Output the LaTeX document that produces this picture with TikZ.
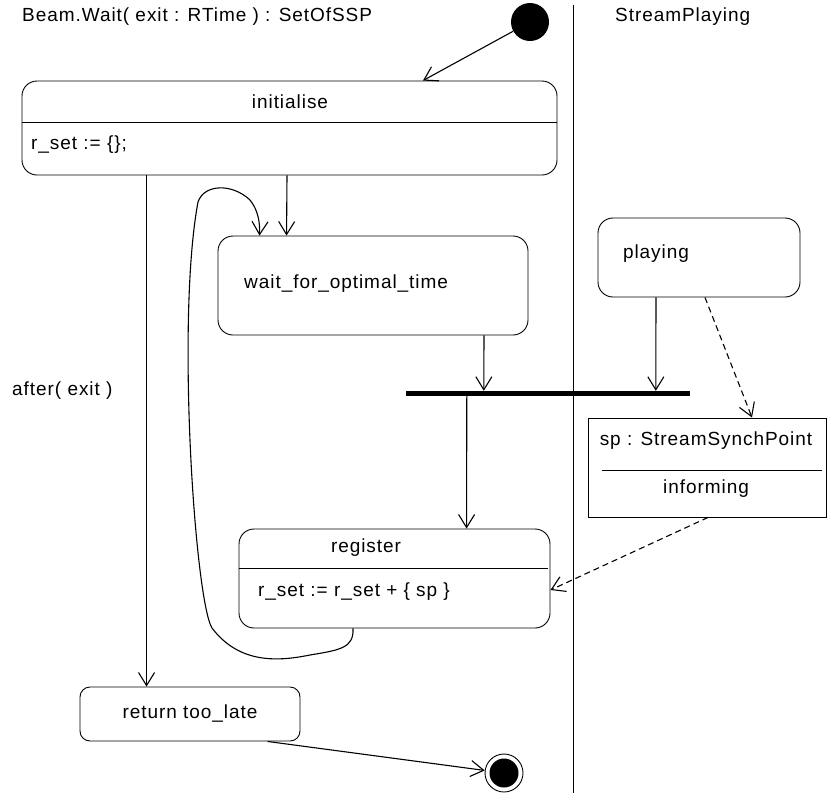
\documentclass[tikz,border=0pt]{standalone}
\usepackage{fontspec}
\setmainfont[LetterSpace=5]{Liberation Sans}
\usetikzlibrary{arrows.meta}
\begin{document}
\begin{tikzpicture}[x=1pt,y=-1pt,
  every node/.style={font=\fontsize{19}{22}\selectfont},
  statebox/.style={draw, rounded corners=15pt, line width=0.9pt, inner sep=0pt},
  objbox/.style={draw, line width=0.9pt, inner sep=0pt},
  lbl/.style={inner sep=0pt},
  arr/.style={line width=1.1pt, -{Straight Barb[length=13pt,width=16pt,line width=1.1pt]}},
  darr/.style={arr, dash pattern=on 6pt off 4pt},
  divider/.style={line width=0.9pt}]
\useasboundingbox (0,0) rectangle (828,793);

% swimlane separator and headings
\draw[line width=1pt] (573,5) -- (573,793);
\node[lbl, anchor=west] (title) at (22,17) {Beam.Wait( exit : RTime ) : SetOfSSP};
\node[lbl, anchor=west] (lane) at (615,17) {StreamPlaying};

% pseudo states
\node[circle, fill, minimum size=38pt, inner sep=0pt] (initial) at (530,22) {};
\node[circle, draw, fill=white, line width=0.9pt, minimum size=38pt, inner sep=0pt] (final) at (504,773) {};
\node[circle, fill, minimum size=29pt, inner sep=0pt] (finaldot) at (504,773) {};

% states
\node[statebox, minimum width=535pt, minimum height=94pt] (init) at (289.5,128) {};
\draw[divider] (init.west |- 0,122) -- (init.east |- 0,122);
\node[lbl] (initT) at (290,102) {initialise};
\node[lbl, anchor=west] (initA) at (31,145) {r\_set := \{\};};

\node[statebox, minimum width=310pt, minimum height=99pt] (wait) at (373,285.5) {};
\node[lbl, anchor=west] (waitT) at (244,284) {wait\_for\_optimal\_time};

\node[statebox, minimum width=202pt, minimum height=79pt] (playing) at (699,257.5) {};
\node[lbl] (playT) at (656,254) {playing};

\node[objbox, minimum width=238pt, minimum height=99pt] (sp) at (707,467.5) {};
\draw[divider] (602,470) -- (822,470);
\node[lbl] (spT) at (706,441) {sp : StreamSynchPoint};
\node[lbl] (spS) at (706,489) {informing};

\node[statebox, minimum width=311pt, minimum height=99pt] (register) at (394.5,578.5) {};
\draw[divider] (register.west |- 0,568) -- (548,568);
\node[lbl] (regT) at (366,548) {register};
\node[lbl, anchor=west] (regA) at (258,592) {r\_set := r\_set + \{ sp \}};

\node[statebox, rounded corners=10pt, minimum width=220pt, minimum height=54pt] (ret) at (190,714) {};
\node[lbl] (retT) at (190,713) {return too\_late};

% synchronisation bar
\node[fill, minimum width=284pt, minimum height=5pt, inner sep=0pt] (fork) at (548,393.5) {};

\node[lbl, anchor=west] (after) at (12,391) {after( exit )};

% transitions
\draw[arr] (initial) -- ([xshift=133.5pt]init.north);
\draw[arr] ([xshift=125pt]init.south west) -- ([xshift=67pt]ret.north west);
\draw[arr] ([xshift=-2.5pt]init.south) -- ([xshift=69pt]wait.north west);
\draw[arr] ([xshift=111pt]wait.south) -- ([xshift=78pt]fork.north west);
\draw[arr] ([xshift=-43pt]playing.south) -- ([xshift=250pt]fork.north west);
\draw[darr] ([xshift=6pt]playing.south) -- ([xshift=45pt]sp.north);
\draw[arr] ([xshift=61pt]fork.south west) -- ([xshift=228pt]register.north west);
\draw[darr] ([xshift=1pt]sp.south) -- ([yshift=-11.5pt]register.east);
\draw[arr] ([xshift=-41.5pt]register.south)
  .. controls (354,648) and (340,650) .. (310,655)
  .. controls (280,661) and (240,665) .. (212,628)
  .. controls (195,600) and (176,320) .. (198,202)
  .. controls (204,184) and (232,183) .. (250,200)
  .. controls (258,210) and (260,222) .. ([xshift=42pt]wait.north west);
\draw[arr] ([xshift=188pt]ret.south west) -- (final);
\end{tikzpicture}
\end{document}
